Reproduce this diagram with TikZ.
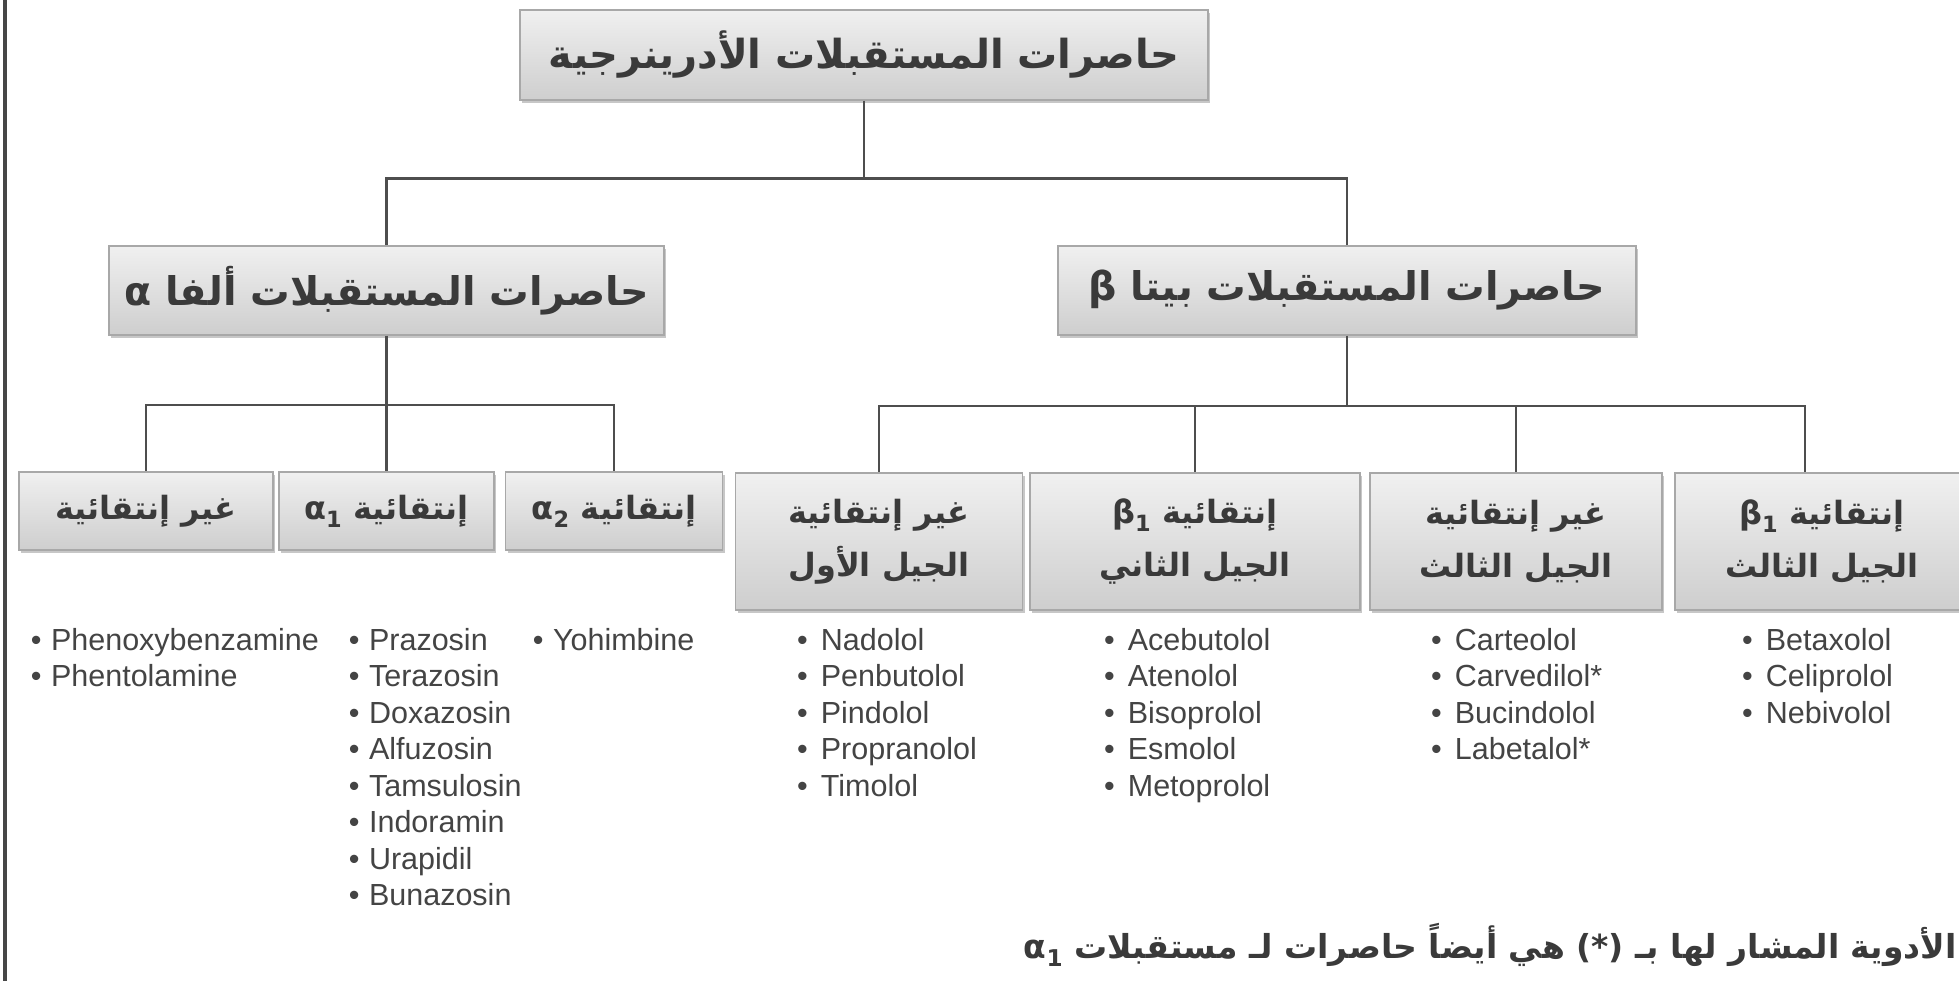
\documentclass[tikz,border=0pt]{standalone}
\usepackage{fontspec}
\setmainfont{Liberation Sans}
\newfontfamily\arabicfont[Script=Arabic]{DejaVu Sans}
\usetikzlibrary{shadows}
\TeXXeTstate=1
\definecolor{txt}{RGB}{58,58,58}
\definecolor{lstcol}{RGB}{68,68,68}
\definecolor{conncol}{RGB}{78,78,78}
\definecolor{boxborder}{RGB}{168,168,168}
\definecolor{boxtop}{RGB}{240,240,240}
\definecolor{boxbot}{RGB}{206,206,206}
\definecolor{edgecol}{RGB}{70,70,70}
\newcommand\drugA[1]{•\hspace{9.5pt}#1}
\newcommand\drugB[1]{•\hspace{13pt}#1}
\newcommand\gsub[2]{\beginL #1\textsubscript{#2}\endL}
\begin{document}
\begin{tikzpicture}[x=1pt,y=1pt,
  box/.style={draw=boxborder, line width=1.5pt, top color=boxtop, bottom color=boxbot,
    inner sep=0pt, text=txt, align=center,
    drop shadow={shadow xshift=2pt, shadow yshift=-3pt, opacity=0.22, fill=black}},
  lvlzero/.style={box, font=\arabicfont\bfseries\fontsize{40}{46}\selectfont},
  lvlone/.style={box, font=\arabicfont\bfseries\fontsize{39.5}{46}\selectfont},
  leaf/.style={box, font=\arabicfont\bfseries\fontsize{32}{53}\selectfont},
  conn/.style={draw=conncol, line width=2.5pt},
  drugs/.style={anchor=north west, inner sep=0pt, align=left, text=lstcol,
    font=\fontsize{30.5}{36.5}\selectfont},
]
\useasboundingbox (0,0) rectangle (1959,-981);
\fill[white] (0,0) rectangle (1959,-981);
\draw[line width=3.5pt, draw=edgecol] (5,0) -- (5,-981);

% level 0
\node[lvlzero, minimum width=688pt, minimum height=90pt] (top) at (864,-55)
  {\beginR حاصرات المستقبلات الأدرينرجية\endR};

% level 1
\node[lvlone, minimum width=555pt, minimum height=89pt] (alpha) at (386.5,-290.5)
  {\beginR حاصرات المستقبلات ألفا \beginL α\endL\endR};
\node[lvlone, minimum width=578pt, minimum height=89pt] (beta) at (1347,-290.5)
  {\beginR حاصرات المستقبلات بيتا \beginL β\endL\endR};

% alpha leaves
\node[leaf, minimum width=254pt, minimum height=78pt] (a1) at (146,-511)
  {\beginR غير إنتقائية\endR};
\node[leaf, minimum width=215pt, minimum height=78pt] (a2) at (386.5,-511)
  {\beginR إنتقائية \gsub{α}{1}\endR};
\node[leaf, minimum width=217pt, minimum height=78pt] (a3) at (614,-511)
  {\beginR إنتقائية \gsub{α}{2}\endR};

% beta leaves
\node[leaf, minimum width=287pt, minimum height=137pt] (b1) at (879,-541.5)
  {\beginR غير إنتقائية\endR\\\beginR الجيل الأول\endR};
\node[leaf, minimum width=330pt, minimum height=137pt] (b2) at (1195,-541.5)
  {\beginR إنتقائية \gsub{β}{1}\endR\\\beginR الجيل الثاني\endR};
\node[leaf, minimum width=292pt, minimum height=137pt] (b3) at (1516,-541.5)
  {\beginR غير إنتقائية\endR\\\beginR الجيل الثالث\endR};
\node[leaf, minimum width=294pt, minimum height=137pt] (b4) at (1822,-541.5)
  {\beginR إنتقائية \gsub{β}{1}\endR\\\beginR الجيل الثالث\endR};

% connectors
\draw[conn] (top.south) -- ++(0,-78) coordinate (j0);
\draw[conn] (j0) -| (alpha.north);
\draw[conn] (j0) -| (beta.north);
\draw[conn] (alpha.south) -- ++(0,-69) coordinate (ja);
\draw[conn] (ja) -| (a1.north);
\draw[conn] (ja) -| (a2.north);
\draw[conn] (ja) -| (a3.north);
\draw[conn] (beta.south) -- ++(0,-70) coordinate (jb);
\draw[conn] (jb) -| (b1.north);
\draw[conn] (jb) -| (b2.north);
\draw[conn] (jb) -| (b3.north);
\draw[conn] (jb) -| ([xshift=-17pt]b4.north);

% drug lists
\node[drugs] (la) at (30.7,-628) {\drugA{Phenoxybenzamine}\\\drugA{Phentolamine}};
\node[drugs] (lb) at (348.7,-628) {\drugA{Prazosin}\\\drugA{Terazosin}\\\drugA{Doxazosin}\\\drugA{Alfuzosin}\\\drugA{Tamsulosin}\\\drugA{Indoramin}\\\drugA{Urapidil}\\\drugA{Bunazosin}};
\node[drugs] (lc) at (532.7,-628) {\drugA{Yohimbine}};
\node[drugs] (ld) at (797,-628) {\drugB{Nadolol}\\\drugB{Penbutolol}\\\drugB{Pindolol}\\\drugB{Propranolol}\\\drugB{Timolol}};
\node[drugs] (le) at (1104,-628) {\drugB{Acebutolol}\\\drugB{Atenolol}\\\drugB{Bisoprolol}\\\drugB{Esmolol}\\\drugB{Metoprolol}};
\node[drugs] (lf) at (1431,-628) {\drugB{Carteolol}\\\drugB{Carvedilol*}\\\drugB{Bucindolol}\\\drugB{Labetalol*}};
\node[drugs] (lg) at (1742,-628) {\drugB{Betaxolol}\\\drugB{Celiprolol}\\\drugB{Nebivolol}};

% footnote
\node[anchor=base east, inner sep=0pt, text=txt, font=\arabicfont\bfseries\fontsize{33}{37}\selectfont] (note) at (1957,-958)
  {\beginR الأدوية المشار لها بـ (*) هي أيضاً حاصرات لـ مستقبلات \gsub{α}{1}\endR};
\end{tikzpicture}
\end{document}
